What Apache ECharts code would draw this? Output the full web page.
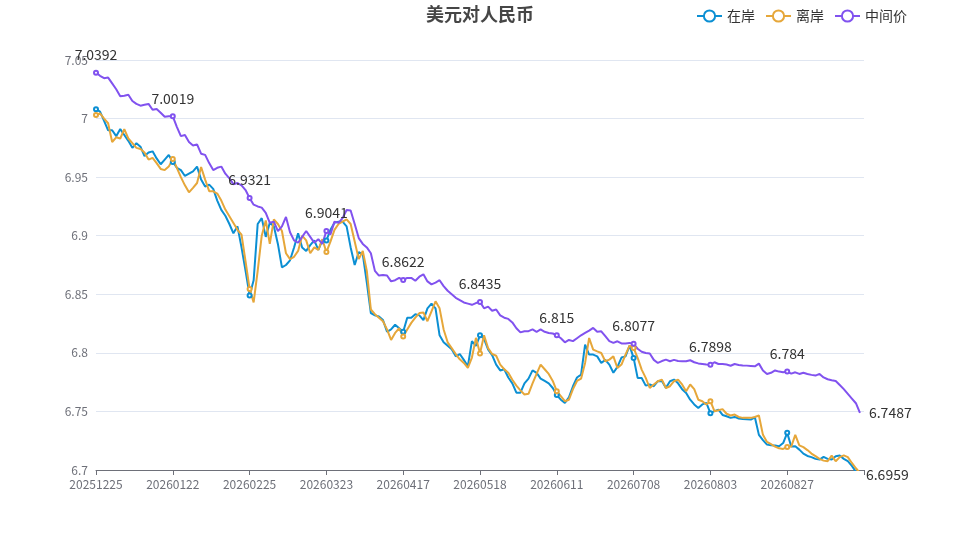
<!DOCTYPE html>
<html>
<head>
<meta charset="utf-8">
<script src="https://cdn.jsdelivr.net/npm/echarts@6/dist/echarts.min.js"></script>
<style>html,body{margin:0;padding:0;background:#fff;}#chart{width:960px;height:540px;}</style>
</head>
<body>
<div id="chart"></div>
<script>
const dates = [
'20251225','20251226','20251229','20251230','20251231','20260102','20260105','20260106','20260107','20260108',
'20260109','20260112','20260113','20260114','20260115','20260116','20260119','20260120','20260121','20260122',
'20260123','20260126','20260127','20260128','20260129','20260130','20260202','20260203','20260204','20260205',
'20260206','20260209','20260210','20260211','20260212','20260213','20260223','20260224','20260225','20260226',
'20260227','20260228','20260302','20260303','20260304','20260305','20260306','20260309','20260310','20260311',
'20260312','20260313','20260316','20260317','20260318','20260319','20260320','20260323','20260324','20260325',
'20260326','20260327','20260330','20260331','20260401','20260402','20260403','20260406','20260407','20260408',
'20260409','20260410','20260413','20260414','20260415','20260416','20260417','20260420','20260421','20260422',
'20260423','20260424','20260427','20260428','20260429','20260430','20260505','20260506','20260507','20260508',
'20260511','20260512','20260513','20260514','20260515','20260518','20260519','20260520','20260521','20260522',
'20260525','20260526','20260527','20260528','20260529','20260601','20260602','20260603','20260604','20260605',
'20260606','20260608','20260609','20260610','20260611','20260612','20260615','20260616','20260617','20260618',
'20260619','20260622','20260623','20260624','20260625','20260626','20260629','20260630','20260701','20260702',
'20260703','20260706','20260707','20260708','20260709','20260710','20260711','20260713','20260714','20260715',
'20260716','20260717','20260720','20260721','20260722','20260723','20260724','20260727','20260728','20260729',
'20260730','20260731','20260803','20260804','20260805','20260806','20260807','20260808','20260810','20260811',
'20260812','20260813','20260814','20260817','20260818','20260819','20260820','20260821','20260824','20260825',
'20260826','20260827','20260828','20260831','20260901','20260902','20260903','20260904','20260907','20260908',
'20260909','20260910','20260911','20260914','20260915','20260916','20260917','20260918','20260921','20260922',
''
];

const onshore = [
7.0080,7.0060,6.9980,6.9900,6.9900,6.9850,6.9910,6.9860,6.9810,6.9750,6.9790,6.9760,6.9680,6.9710,6.9720,6.9660,6.9610,6.9650,6.9690,6.9630,
6.9580,6.9560,6.9510,6.9530,6.9550,6.9590,6.9480,6.9420,6.9436,6.9400,6.9300,6.9220,6.9170,6.9100,6.9020,6.9080,6.8900,6.8700,6.8490,
6.8620,6.9100,6.9150,6.8990,6.9110,6.9080,6.8930,6.8730,6.8750,6.8790,6.8900,6.9020,6.8900,6.8870,6.8920,6.8960,6.8880,6.8960,6.8960,
6.9050,6.9110,6.9120,6.9120,6.9080,6.8900,6.8750,6.8860,6.8840,6.8600,6.8340,6.8320,6.8310,6.8280,6.8180,6.8200,6.8240,6.8210,6.8180,
6.8300,6.8300,6.8330,6.8320,6.8280,6.8380,6.8420,6.8380,6.8150,6.8090,6.8060,6.8030,6.7970,6.7990,6.7940,6.7886,6.8100,6.8060,6.8150,
6.8120,6.8030,6.7980,6.7900,6.7850,6.7860,6.7790,6.7740,6.7660,6.7660,6.7740,6.7780,6.7850,6.7830,6.7780,6.7760,6.7740,6.7700,6.7640,
6.7600,6.7573,6.7620,6.7715,6.7790,6.7814,6.8070,6.7985,6.7985,6.7970,6.7914,6.7940,6.7900,6.7830,6.7880,6.7960,6.7970,6.8062,6.7957,
6.7786,6.7786,6.7720,6.7730,6.7715,6.7758,6.7760,6.7701,6.7758,6.7772,6.7740,6.7690,6.7658,6.7600,6.7560,6.7530,6.7560,6.7573,6.7485,
6.7502,6.7516,6.7470,6.7459,6.7445,6.7453,6.7440,6.7436,6.7433,6.7430,6.7450,6.7300,6.7255,6.7217,6.7212,6.7209,6.7203,6.7230,6.7317,
6.7200,6.7203,6.7174,6.7140,6.7120,6.7110,6.7095,6.7089,6.7112,6.7095,6.7089,6.7118,6.7123,6.7095,6.7075,6.7035,6.6985,6.6959
];

const offshore = [
7.0030,7.0045,7.0000,6.9960,6.9800,6.9840,6.9830,6.9910,6.9830,6.9790,6.9750,6.9740,6.9710,6.9650,6.9665,6.9620,6.9570,6.9560,6.9590,6.9655,
6.9580,6.9500,6.9430,6.9370,6.9408,6.9450,6.9587,6.9479,6.9380,6.9379,6.9360,6.9300,6.9223,6.9166,6.9109,6.9050,6.9009,6.8780,6.8546,
6.8430,6.8700,6.9000,6.9130,6.8930,6.9140,6.9100,6.9040,6.8850,6.8800,6.8820,6.8870,6.9000,6.8960,6.8850,6.8900,6.8880,6.8970,6.8860,
6.8950,6.9050,6.9100,6.9120,6.9140,6.9100,6.8950,6.8800,6.8870,6.8700,6.8370,6.8330,6.8300,6.8270,6.8200,6.8110,6.8170,6.8210,6.8140,
6.8200,6.8256,6.8300,6.8340,6.8345,6.8270,6.8355,6.8440,6.8380,6.8200,6.8090,6.8040,6.7990,6.7945,6.7914,6.7872,6.7960,6.8128,6.7994,
6.8150,6.8040,6.7990,6.7975,6.7900,6.7860,6.7830,6.7770,6.7720,6.7680,6.7644,6.7650,6.7740,6.7820,6.7900,6.7860,6.7820,6.7760,6.7673,
6.7630,6.7587,6.7600,6.7690,6.7760,6.7780,6.7914,6.8127,6.8028,6.8013,6.7999,6.7928,6.7942,6.7970,6.7871,6.7900,6.7985,6.8062,6.8042,
6.7957,6.7857,6.7786,6.7700,6.7730,6.7758,6.7772,6.7700,6.7715,6.7758,6.7772,6.7730,6.7672,6.7730,6.7690,6.7600,6.7587,6.7559,6.7587,
6.7502,6.7510,6.7520,6.7480,6.7465,6.7473,6.7453,6.7445,6.7445,6.7445,6.7453,6.7465,6.7300,6.7240,6.7220,6.7200,6.7185,6.7180,6.7197,
6.7200,6.7300,6.7210,6.7195,6.7170,6.7140,6.7118,6.7095,6.7080,6.7075,6.7123,6.7075,6.7110,6.7125,6.7110,6.7060,6.7015,6.6975
];

const central = [
7.0392,7.0365,7.0345,7.0350,7.0300,7.0250,7.0190,7.0195,7.0203,7.0150,7.0125,7.0110,7.0118,7.0125,7.0075,7.0082,7.0050,7.0015,7.0020,7.0019,
6.9930,6.9850,6.9860,6.9800,6.9770,6.9780,6.9700,6.9690,6.9620,6.9560,6.9580,6.9590,6.9530,6.9490,6.9440,6.9450,6.9430,6.9390,6.9321,
6.9265,6.9250,6.9240,6.9195,6.9110,6.9120,6.9040,6.9080,6.9160,6.9030,6.8960,6.8940,6.8990,6.9040,6.8990,6.8940,6.8970,6.8930,6.9041,
6.9010,6.9120,6.9110,6.9150,6.9220,6.9215,6.9100,6.8980,6.8930,6.8900,6.8850,6.8700,6.8660,6.8665,6.8660,6.8610,6.8620,6.8640,6.8622,
6.8640,6.8640,6.8615,6.8650,6.8670,6.8610,6.8585,6.8600,6.8620,6.8570,6.8530,6.8500,6.8470,6.8450,6.8430,6.8420,6.8410,6.8425,6.8435,
6.8380,6.8395,6.8360,6.8370,6.8320,6.8300,6.8290,6.8260,6.8210,6.8175,6.8185,6.8185,6.8200,6.8180,6.8200,6.8180,6.8170,6.8165,6.8150,
6.8125,6.8090,6.8110,6.8100,6.8125,6.8150,6.8170,6.8190,6.8213,6.8180,6.8184,6.8142,6.8100,6.8085,6.8099,6.8080,6.8080,6.8085,6.8077,
6.8035,6.8010,6.7999,6.7995,6.7940,6.7914,6.7930,6.7942,6.7928,6.7940,6.7930,6.7928,6.7928,6.7937,6.7920,6.7910,6.7905,6.7900,6.7898,
6.7920,6.7905,6.7905,6.7900,6.7890,6.7905,6.7897,6.7893,6.7891,6.7888,6.7885,6.7908,6.7850,6.7820,6.7830,6.7850,6.7840,6.7834,6.7840,
6.7823,6.7834,6.7820,6.7830,6.7820,6.7812,6.7806,6.7820,6.7790,6.7775,6.7766,6.7760,6.7725,6.7690,6.7650,6.7610,6.7570,6.7487
];

const seriesNames = ['在岸', '离岸', '中间价'];
const colors = ['#0b8fd3', '#e6a73a', '#8152ef'];

const chart = echarts.init(document.getElementById('chart'));
const font = '"Noto Sans CJK SC", "Noto Sans", sans-serif';
chart.setOption({
  animation: false,
  color: colors,
  textStyle: { fontFamily: font },
  title: {
    text: '美元对人民币', left: 'center', top: 0,
    textStyle: { fontSize: 18, fontWeight: 'bold', color: '#464646', fontFamily: font }
  },
  legend: {
    data: seriesNames, right: 48, top: 4, itemGap: 10, itemWidth: 25, itemHeight: 14,
    textStyle: { fontSize: 14, color: '#333', fontFamily: font }
  },
  grid: { left: 96, right: 96, top: 60, bottom: 70, containLabel: false },
  xAxis: {
    type: 'category', data: dates, boundaryGap: false,
    axisLine: { lineStyle: { color: '#6E7079' } },
    axisTick: { lineStyle: { color: '#6E7079' } },
    axisLabel: { interval: 18, color: '#6E7079', fontSize: 12, fontFamily: font },
    splitLine: { show: false }
  },
  yAxis: {
    type: 'value', min: 6.7, max: 7.05, interval: 0.05,
    axisLine: { show: false }, axisTick: { show: false },
    axisLabel: { color: '#6E7079', fontSize: 12, fontFamily: font },
    splitLine: { lineStyle: { color: '#E0E6F1' } }
  },
  series: [
    {
      name: seriesNames[0], type: 'line', data: onshore,
      symbol: 'emptyCircle', symbolSize: 4, lineStyle: { width: 2 },
      endLabel: { show: true, color: '#333', fontSize: 14, fontFamily: font, distance: 6 }
    },
    {
      name: seriesNames[1], type: 'line', data: offshore,
      symbol: 'emptyCircle', symbolSize: 4, lineStyle: { width: 2 }
    },
    {
      name: seriesNames[2], type: 'line', data: central,
      symbol: 'emptyCircle', symbolSize: 4, lineStyle: { width: 2 },
      label: { show: true, position: 'top', distance: 8, color: '#333', fontSize: 14, fontFamily: font },
      endLabel: { show: true, color: '#333', fontSize: 14, fontFamily: font, distance: 9 }
    }
  ]
});
</script>
</body>
</html>
